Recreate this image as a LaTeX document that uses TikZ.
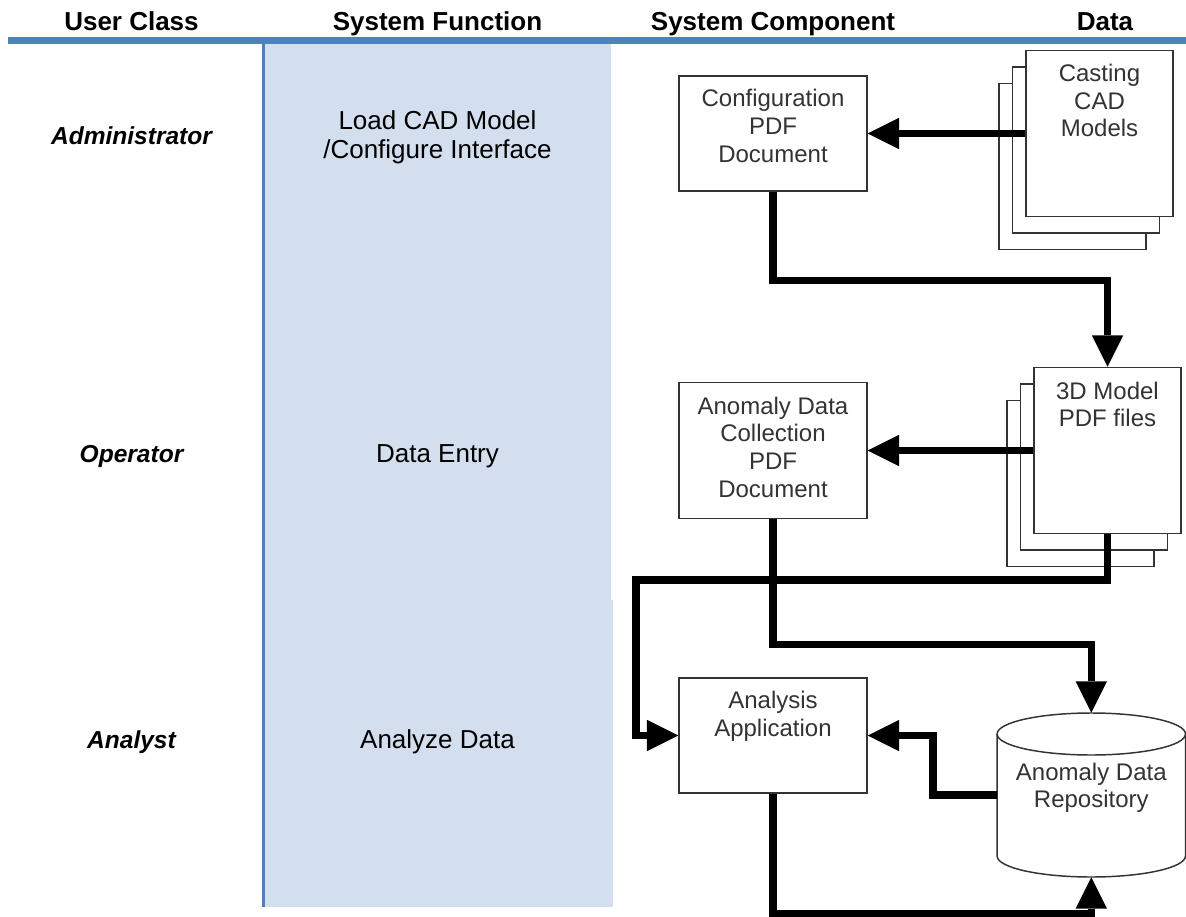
\documentclass[tikz,border=0pt]{standalone}
\usepackage{fontspec}
\setmainfont{Liberation Sans}
\usetikzlibrary{arrows.meta}

\definecolor{rulebar}{RGB}{79,129,189}
\definecolor{laneshade}{RGB}{211,223,238}

\begin{document}
\begin{tikzpicture}[x=0.75pt, y=-0.75pt,
    heading/.style={anchor=base, font=\fontsize{19.5}{23}\selectfont\bfseries},
    role/.style={anchor=base, font=\fontsize{18.4}{22}\selectfont\bfseries\itshape},
    task/.style={align=center, font=\fontsize{19.5}{21.75}\selectfont},
    comp/.style={draw=black!80, line width=1.1pt, fill=white, inner sep=0pt,
      minimum width=141pt, minimum height=86.25pt},
    sheet/.style={draw=black!80, line width=1.1pt, fill=white, inner sep=0pt,
      minimum width=110.25pt, minimum height=124.5pt},
    boxtext/.style={anchor=north, align=center, inner sep=0pt, text=black!80,
      font=\fontsize{18}{20.8}\selectfont},
    flow/.style={line width=5.6pt,
      -{Triangle[length=23.5pt, width=23.5pt, line width=0pt]}}]

  % units are pixels, y runs downwards
  \useasboundingbox (0,0) rectangle (1186,917);

  % === Lanes ===
  \fill[laneshade] (264.5,44) rectangle (611,600);
  \fill[laneshade] (264.5,600) rectangle (613,907);
  \draw[rulebar, line width=2.25pt] (263,44) -- (263,907);
  \draw[rulebar, line width=5.25pt] (8,40.5) -- (1186,40.5);

  % column headings
  \node[heading] (h-user) at (131.5,30.5) {User Class};
  \node[heading] (h-func) at (437.5,30.5) {System Function};
  \node[heading] (h-comp) at (773,30.5) {System Component};
  \node[heading] (h-data) at (1105,30.5) {Data};

  % user classes and what they do
  \node[role] (administrator) at (131.5,145) {Administrator};
  \node[role] (operator) at (131.5,462) {Operator};
  \node[role] (analyst) at (131.5,748) {Analyst};

  \node[task] (f-load) at (437.5,137.7) {Load CAD Model\\/Configure Interface};
  \node[task, anchor=base] (f-entry) at (437.5,462) {Data Entry};
  \node[task, anchor=base] (f-analyze) at (437.5,748) {Analyze Data};

  % === Components ===
  \node[comp] (cfgdoc) at (773,133.5) {};
  \node[comp, minimum height=102pt] (collectdoc) at (773,450.5) {};
  \node[comp] (analysisapp) at (773,735.5) {};

  % stacked sheets, back ones first
  \foreach \k in {2,1} {
    \node[sheet] (castcad-\k) at (1099.5-13.5*\k, 133.5+16.5*\k) {};
    \node[sheet] (modelpdf-\k) at (1107.5-13.5*\k, 450.5+16.5*\k) {};
  }
  \node[sheet] (castcad) at (1099.5,133.5) {};
  \node[sheet] (modelpdf) at (1107.5,450.5) {};

  % repository drum
  \def\drumrx{94.2}
  \def\drumry{21}
  \node[inner sep=0pt, minimum width=141.3pt, minimum height=123pt] (repo) at (1091.3,795) {};
  \draw[black!80, line width=1.1pt]
    (997.1,734) -- (997.1,856)
    arc[start angle=180, end angle=0, x radius=\drumrx, y radius=\drumry]
    -- (1185.5,734);
  \draw[black!80, line width=1.1pt] (1091.3,734) ellipse [x radius=\drumrx, y radius=\drumry];

  % --- texts inside the shapes ---
  \node[boxtext] (cfgdoc-lbl) at ([yshift=-9pt]cfgdoc.north) {\strut Configuration\\PDF\\Document};
  \node[boxtext] (collectdoc-lbl) at ([yshift=-9.5pt]collectdoc.north) {\strut Anomaly Data\\Collection\\PDF\\Document};
  \node[boxtext] (analysisapp-lbl) at ([yshift=-8.5pt]analysisapp.north) {\strut Analysis\\Application};
  \node[boxtext] (castcad-lbl) at ([yshift=-9pt]castcad.north) {\strut Casting\\CAD\\Models};
  \node[boxtext] (modelpdf-lbl) at ([yshift=-9.5pt]modelpdf.north) {\strut 3D Model\\PDF files};
  \node[boxtext] (repo-lbl) at ([yshift=-35.7pt]repo.north) {\strut Anomaly Data\\Repository};

  % === Data flow ===
  \coordinate (loopcorner) at (636,580);
  \draw[flow] (castcad.west) -- (cfgdoc.east);
  \draw[flow] (cfgdoc.south) -- ++(0,89) -| (modelpdf.north);
  \draw[flow] (modelpdf.west) -- (collectdoc.east);
  \draw[flow] (modelpdf.south) |- (loopcorner) |- (analysisapp.west);
  \draw[flow] (collectdoc.south) -- ++(0,125) -| (repo.north);
  \draw[flow] (repo.west) -- ++(-64,0) |- (analysisapp.east);
  \draw[flow] (analysisapp.south) -- ++(0,120) -| (repo.south);

\end{tikzpicture}
\end{document}
